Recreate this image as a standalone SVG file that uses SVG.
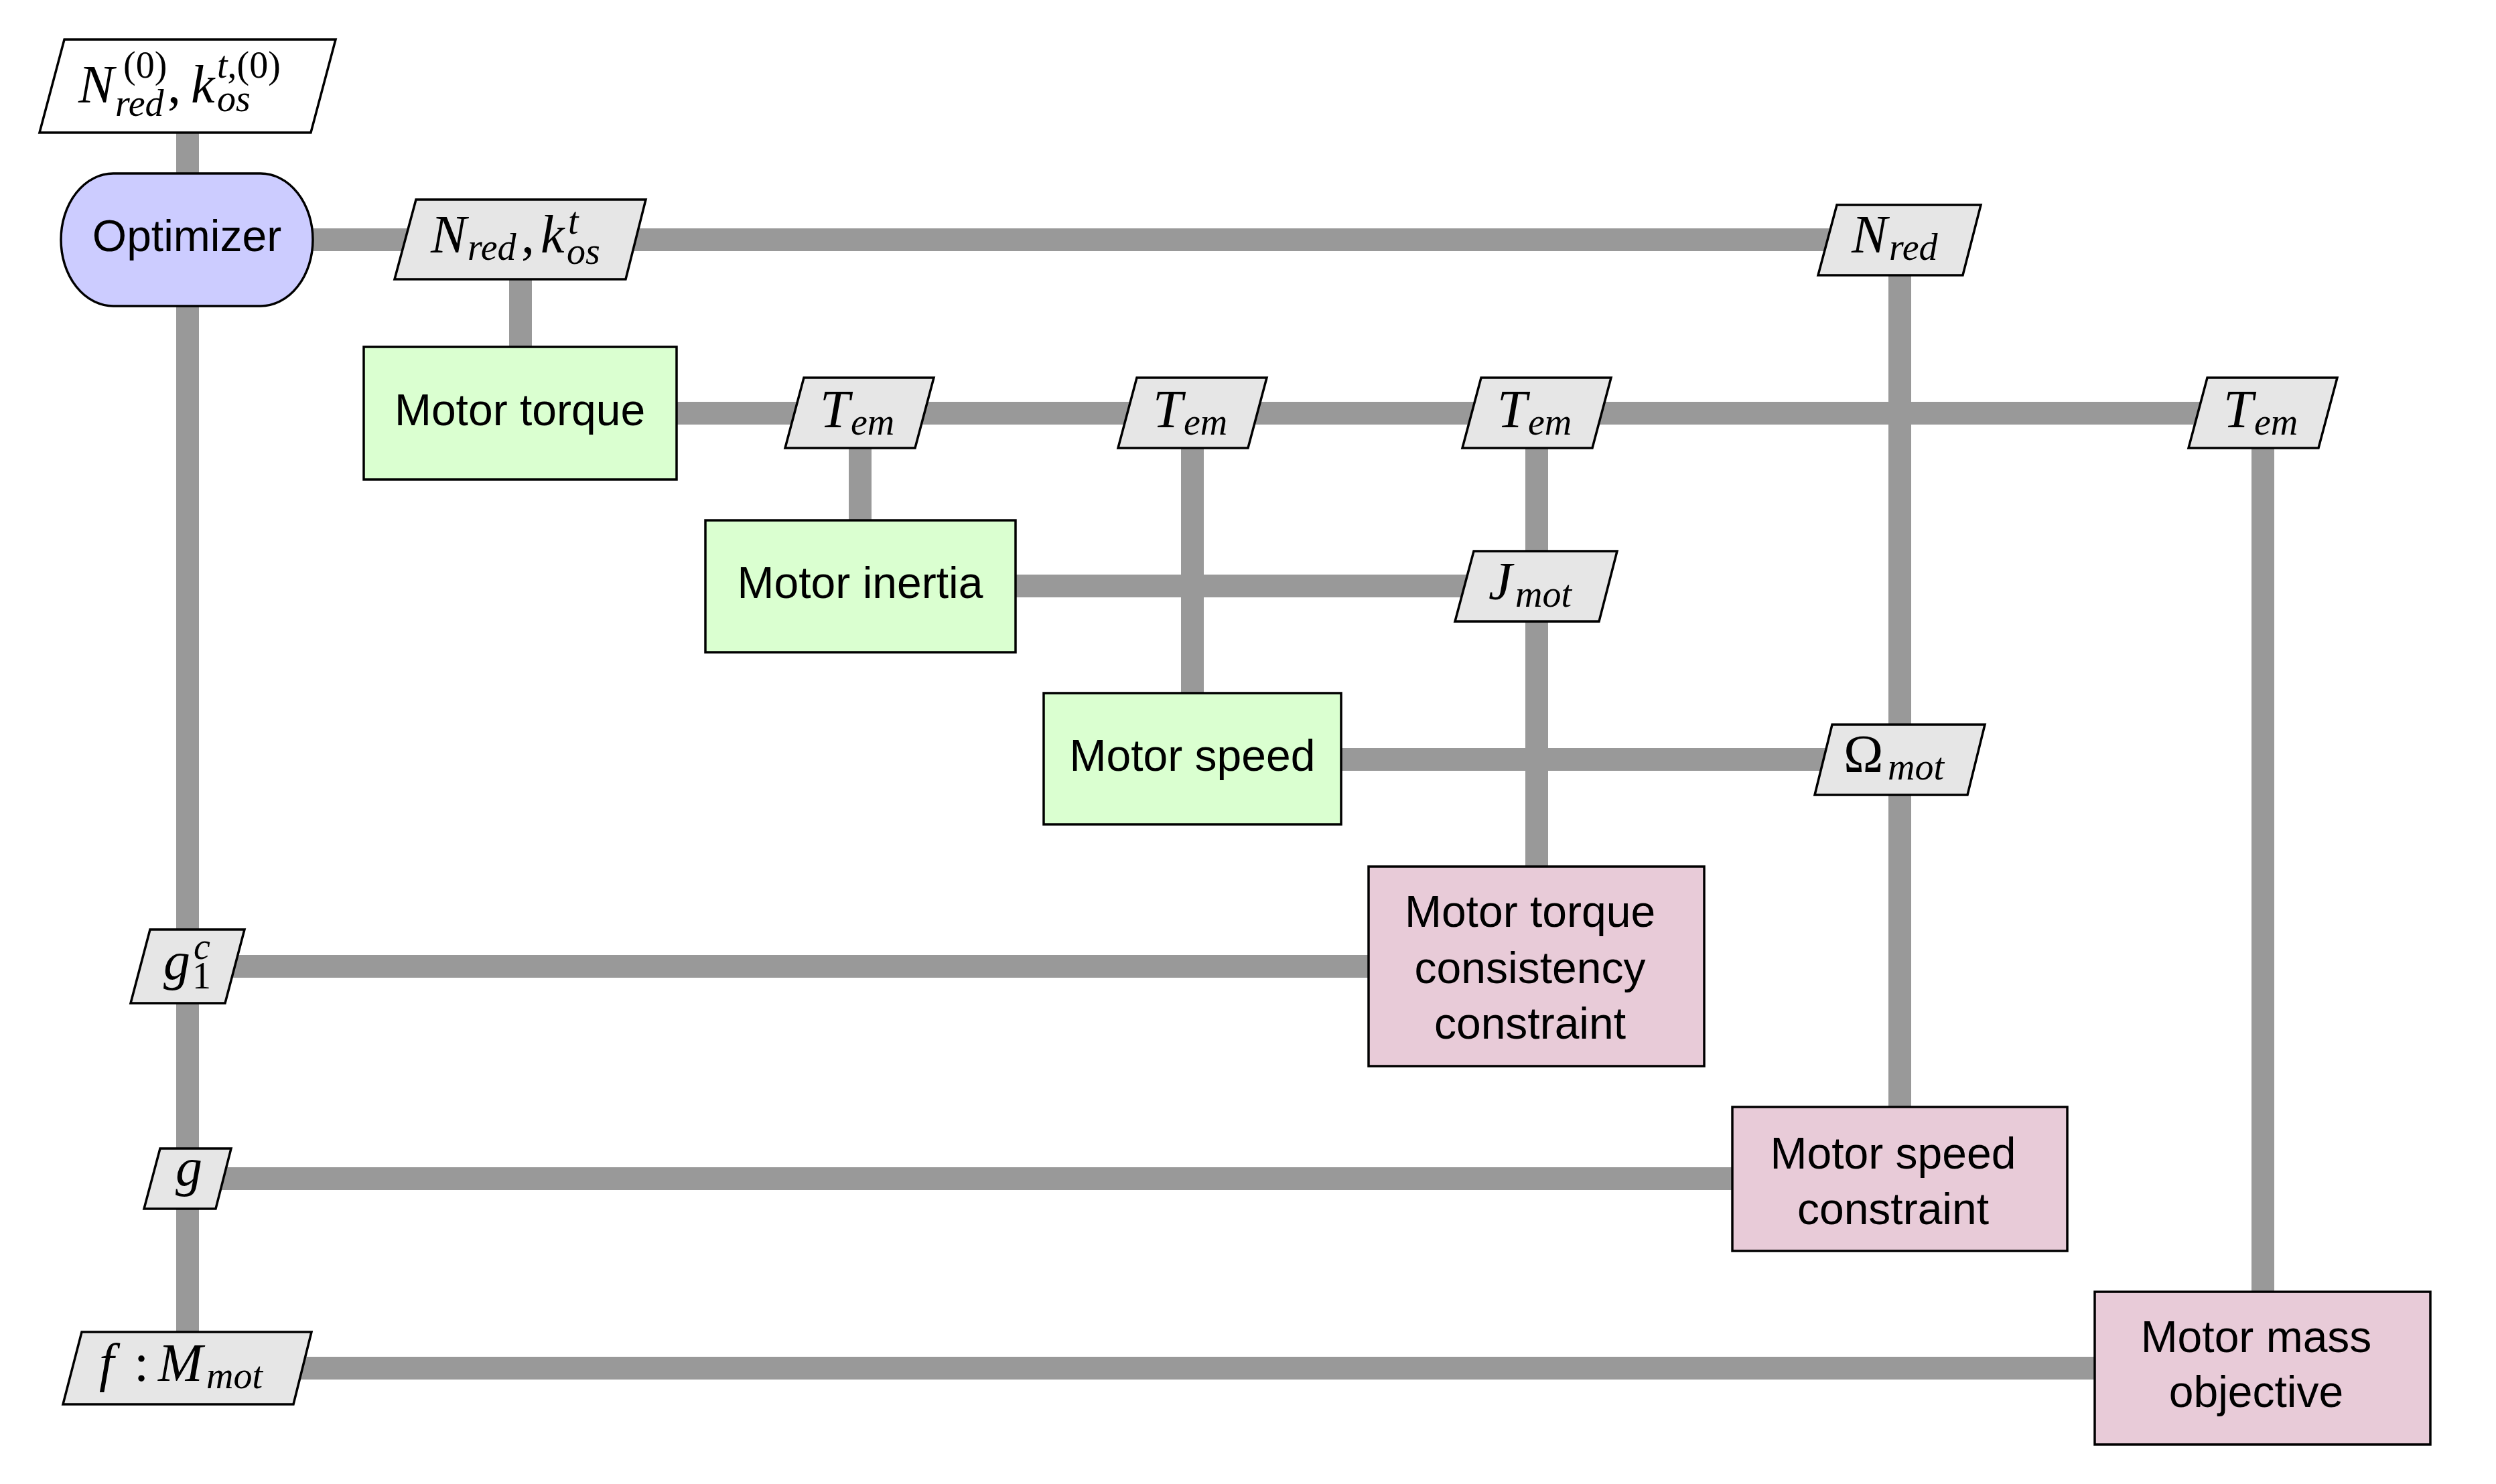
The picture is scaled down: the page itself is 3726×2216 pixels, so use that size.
<svg xmlns="http://www.w3.org/2000/svg" width="3726" height="2216" viewBox="0 0 3726 2216">
<style>
.conn{stroke:#999999;stroke-width:34;fill:none;stroke-linecap:butt}
.b{stroke:#000;stroke-width:3.5;stroke-linejoin:miter}
.var{fill:#e6e6e6}
.inp{fill:#ffffff}
.func{fill:#daffd0}
.con{fill:#e8cbd8}
.opt{fill:#ccccff}
.sans{font-family:"Liberation Sans",Arial,sans-serif;font-size:66px;fill:#000;text-anchor:middle}
.m{font-family:"Liberation Serif","Times New Roman",serif;font-style:italic;font-size:80px;fill:#000}
.s{font-size:56px}
.u{font-style:normal}
</style>
<rect x="0" y="0" width="3726" height="2216" fill="#ffffff"/>
<g id="connectors">
<line class="conn" x1="280" y1="198" x2="280" y2="1995"/>
<line class="conn" x1="440" y1="358" x2="2800" y2="358"/>
<line class="conn" x1="777" y1="410" x2="777" y2="520"/>
<line class="conn" x1="2836" y1="400" x2="2836" y2="1655"/>
<line class="conn" x1="1000" y1="617" x2="3378" y2="617"/>
<line class="conn" x1="1284" y1="650" x2="1284" y2="780"/>
<line class="conn" x1="1780" y1="650" x2="1780" y2="1038"/>
<line class="conn" x1="2294" y1="650" x2="2294" y2="1297"/>
<line class="conn" x1="3378" y1="650" x2="3378" y2="1932"/>
<line class="conn" x1="1510" y1="875" x2="2293" y2="875"/>
<line class="conn" x1="1995" y1="1134" x2="2836" y2="1134"/>
<line class="conn" x1="280" y1="1443" x2="2046" y2="1443"/>
<line class="conn" x1="280" y1="1760" x2="2589" y2="1760"/>
<line class="conn" x1="280" y1="2043" x2="3130" y2="2043"/>
</g>
<g id="input">
<polygon class="b inp" points="96,59 501,59 464,198 59,198"/>
<text class="m"><tspan x="117" y="153">N</tspan><tspan class="s u" x="184" y="116">(0)</tspan><tspan class="s" x="172" y="173">red</tspan><tspan class="u" x="250" y="153">,</tspan><tspan x="285" y="153">k</tspan><tspan class="s" x="324" y="116">t</tspan><tspan class="s u">,(0)</tspan><tspan class="s" x="324" y="166">os</tspan></text>
</g>
<g id="optimizer">
<path class="b opt" d="M169,259 H389 A78,99 0 0 1 389,457 H169 A78,99 0 0 1 169,259 Z"/>
<text class="sans" x="279" y="375">Optimizer</text>
</g>
<g id="var-nk">
<polygon class="b var" points="621,298 964,298 934,417 589,417"/>
<text class="m"><tspan x="643" y="377">N</tspan><tspan class="s" x="698" y="388">red</tspan><tspan class="u" x="778" y="377">,</tspan><tspan x="807" y="377">k</tspan><tspan class="s" x="848" y="349">t</tspan><tspan class="s" x="846" y="394">os</tspan></text>
</g>
<g id="var-nred">
<polygon class="b var" points="2742,306 2957,306 2930,411 2714,411"/>
<text class="m"><tspan x="2764" y="377">N</tspan><tspan class="s" x="2820" y="388">red</tspan></text>
</g>
<g id="motor-torque">
<rect class="b func" x="543" y="518" width="467" height="198"/>
<text class="sans" x="776" y="635">Motor torque</text>
</g>
<g id="tem1">
<polygon class="b var" points="1200,564 1394,564 1366,669 1172,669"/>
<text class="m"><tspan x="1224" y="638">T</tspan><tspan class="s" x="1270" y="649">em</tspan></text>
</g>
<g id="tem2">
<polygon class="b var" points="1697,564 1891,564 1863,669 1669,669"/>
<text class="m"><tspan x="1721" y="638">T</tspan><tspan class="s" x="1767" y="649">em</tspan></text>
</g>
<g id="tem3">
<polygon class="b var" points="2211,564 2405,564 2377,669 2183,669"/>
<text class="m"><tspan x="2235" y="638">T</tspan><tspan class="s" x="2281" y="649">em</tspan></text>
</g>
<g id="tem4">
<polygon class="b var" points="3295,564 3489,564 3461,669 3267,669"/>
<text class="m"><tspan x="3319" y="638">T</tspan><tspan class="s" x="3365" y="649">em</tspan></text>
</g>
<g id="motor-inertia">
<rect class="b func" x="1053" y="777" width="463" height="197"/>
<text class="sans" x="1284" y="893">Motor inertia</text>
</g>
<g id="var-jmot">
<polygon class="b var" points="2200,823 2414,823 2387,928 2172,928"/>
<text class="m"><tspan x="2222" y="895">J</tspan><tspan class="s" x="2262" y="906">mot</tspan></text>
</g>
<g id="motor-speed">
<rect class="b func" x="1558" y="1035" width="444" height="196"/>
<text class="sans" x="1780" y="1151">Motor speed</text>
</g>
<g id="var-omega">
<polygon class="b var" points="2735,1082 2963,1082 2937,1187 2709,1187"/>
<text class="m"><tspan class="u" x="2752" y="1153">Ω</tspan><tspan class="s" x="2818" y="1164">mot</tspan></text>
</g>
<g id="torque-consistency">
<rect class="b con" x="2043" y="1294" width="501" height="298"/>
<text class="sans"><tspan x="2284" y="1384">Motor torque</tspan><tspan x="2284" y="1468">consistency</tspan><tspan x="2284" y="1551">constraint</tspan></text>
</g>
<g id="speed-constraint">
<rect class="b con" x="2586" y="1653" width="500" height="215"/>
<text class="sans"><tspan x="2826" y="1745">Motor speed</tspan><tspan x="2826" y="1828">constraint</tspan></text>
</g>
<g id="mass-objective">
<rect class="b con" x="3127" y="1929" width="501" height="228"/>
<text class="sans"><tspan x="3368" y="2019">Motor mass</tspan><tspan x="3368" y="2101">objective</tspan></text>
</g>
<g id="var-g1c">
<polygon class="b var" points="224,1388 365,1388 336,1498 195,1498"/>
<text class="m"><tspan x="244" y="1462">g</tspan><tspan class="s u" x="287" y="1476">1</tspan><tspan class="s" x="289" y="1432">c</tspan></text>
</g>
<g id="var-g">
<polygon class="b var" points="239,1715 345,1715 322,1805 215,1805"/>
<text class="m"><tspan x="262" y="1770">g</tspan></text>
</g>
<g id="var-f">
<polygon class="b var" points="122,1989 465,1989 438,2097 94,2097"/>
<text class="m"><tspan x="148" y="2062">f</tspan><tspan class="u" x="200" y="2062">:</tspan><tspan x="236" y="2062">M</tspan><tspan class="s" x="308" y="2073">mot</tspan></text>
</g>
</svg>
